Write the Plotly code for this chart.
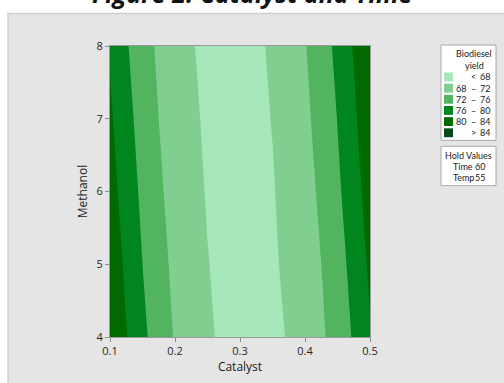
import plotly.graph_objects as go

# Response surface of biodiesel yield (%) over catalyst and methanol,
# holding time = 60 and temperature = 55
catalyst = [0.100, 0.125, 0.150, 0.175, 0.200, 0.225, 0.250, 0.275, 0.300,
            0.325, 0.350, 0.375, 0.400, 0.425, 0.450, 0.475, 0.500]
methanol = [4, 5, 6, 7, 8]
yield_m4 = [83.9, 80.2, 76.9, 74.1, 71.7, 69.8, 68.4, 67.5, 67.0,
            66.9, 67.3, 68.2, 69.6, 71.4, 73.7, 76.4, 79.6]
yield_m5 = [82.8, 79.2, 76.0, 73.4, 71.1, 69.4, 68.1, 67.3, 66.9,
            67.0, 67.6, 68.6, 70.1, 72.0, 74.4, 77.3, 80.7]
yield_m6 = [81.7, 78.2, 75.2, 72.6, 70.6, 68.9, 67.8, 67.1, 66.9,
            67.1, 67.8, 69.0, 70.6, 72.7, 75.3, 78.3, 81.8]
yield_m7 = [80.6, 77.3, 74.4, 72.0, 70.0, 68.6, 67.5, 67.0, 66.9,
            67.3, 68.1, 69.4, 71.2, 73.4, 76.1, 79.3, 82.9]
yield_m8 = [79.6, 76.4, 73.6, 71.4, 69.6, 68.2, 67.3, 66.9, 67.0,
            67.5, 68.4, 69.9, 71.8, 74.1, 77.0, 80.3, 83.9]

levels = [68, 72, 76, 80, 84]
band_colors = ["#a6e6bb", "#80cf91", "#52b45f", "#00851f", "#006a00", "#004d1a"]
hold_names = ["Time", "Temp"]
hold_values = [60, 55]

x_ticks = [0.1, 0.2, 0.3, 0.4, 0.5]
y_ticks = [4, 5, 6, 7, 8]

W, H = 504, 383
ML, MR, MT, MB = 110, 134, 46, 41
PW, PH = W - ML - MR, H - MT - MB


def px(xp):
    return (xp - ML) / PW


def py(yp):
    return (H - MB - yp) / PH


z = [yield_m4, yield_m5, yield_m6, yield_m7, yield_m8]
n = len(band_colors) - 1
colorscale = [[i / n, c] for i, c in enumerate(band_colors)]

fig = go.Figure(go.Contour(
    x=catalyst, y=methanol, z=z,
    autocontour=False,
    contours=dict(start=levels[0], end=levels[-1], size=levels[1] - levels[0],
                  coloring="fill", showlines=False),
    line=dict(width=0),
    colorscale=colorscale,
    showscale=False,
    hoverinfo="x+y+z",
))

font_main = "Open Sans, Noto Sans, sans-serif"
font_key = "Lato, Roboto, sans-serif"
shapes = [
    # grey panel behind the chart
    dict(type="rect", xref="paper", yref="paper", layer="below",
         x0=px(8), x1=px(W + 20), y0=py(H + 20), y1=py(13),
         fillcolor="#e5e5e5", line=dict(color="#cfcfcf", width=1.5)),
    # key boxes
    dict(type="rect", xref="paper", yref="paper",
         x0=px(441), x1=px(496), y0=py(142), y1=py(45),
         fillcolor="white", line=dict(color="#a8a8a8", width=1)),
    dict(type="rect", xref="paper", yref="paper",
         x0=px(441), x1=px(496), y0=py(188), y1=py(148),
         fillcolor="white", line=dict(color="#a8a8a8", width=1)),
]

ann = []
tf = dict(family=font_key, size=9, color="#1a1a1a")


def text(s, xp, yp, anchor="center"):
    ann.append(dict(text=s, xref="paper", yref="paper", x=px(xp), y=py(yp),
                    xanchor=anchor, yanchor="middle", showarrow=False, font=tf,
                    borderpad=0))


text("Biodiesel", 474, 54)
text("yield", 474, 66)
row_y0, row_dy = 77.5, 11.35
for i, c in enumerate(band_colors):
    yc = row_y0 + i * row_dy
    shapes.append(dict(type="rect", xref="paper", yref="paper",
                       x0=px(444), x1=px(453), y0=py(yc + 4.5), y1=py(yc - 4.5),
                       fillcolor=c, line=dict(width=0)))
    if i == 0:
        text("<", 473.5, yc)
        text(str(levels[0]), 490.5, yc, "right")
    elif i == len(band_colors) - 1:
        text(">", 473.5, yc)
        text(str(levels[-1]), 490.5, yc, "right")
    else:
        text(str(levels[i - 1]), 467, yc, "right")
        text("–", 473.5, yc)
        text(str(levels[i]), 490.5, yc, "right")

text("Hold Values", 468.5, 157)
for j, (nm, v) in enumerate(zip(hold_names, hold_values)):
    yc = 168.5 + j * 11.5
    text(nm, 451.5, yc, "left")
    text(str(v), 486, yc, "right")

# chart title, partly above the top edge of the page
ann.append(dict(text="<b><i>Figure 2: Catalyst and Time</i></b>",
                xref="paper", yref="paper", x=px(252.5), y=py(10),
                xanchor="center", yanchor="bottom", showarrow=False,
                borderpad=0,
                font=dict(family=font_main, size=25, color="#111111")))

axis_common = dict(
    showgrid=False, zeroline=False,
    showline=True, mirror=True, linecolor="#9a9a9a", linewidth=1,
    ticks="outside", ticklen=4, tickcolor="#8a8a8a",
    tickfont=dict(family=font_main, size=11, color="#262626"),
)

fig.update_layout(
    width=W, height=H,
    margin=dict(l=ML, r=MR, t=MT, b=MB, pad=0),
    paper_bgcolor="white",
    plot_bgcolor="#e5e5e5",
    xaxis=dict(range=[0.1, 0.5], tickvals=x_ticks,
               ticktext=[f"{v:.1f}" for v in x_ticks],
               title=dict(text="Catalyst", standoff=4,
                          font=dict(family=font_main, size=12, color="#1a1a1a")),
               **axis_common),
    yaxis=dict(range=[4, 8], tickvals=y_ticks,
               title=dict(text="Methanol", standoff=6,
                          font=dict(family=font_main, size=12, color="#1a1a1a")),
               **axis_common),
    shapes=shapes,
    annotations=ann,
)

fig.write_html("out.html")
